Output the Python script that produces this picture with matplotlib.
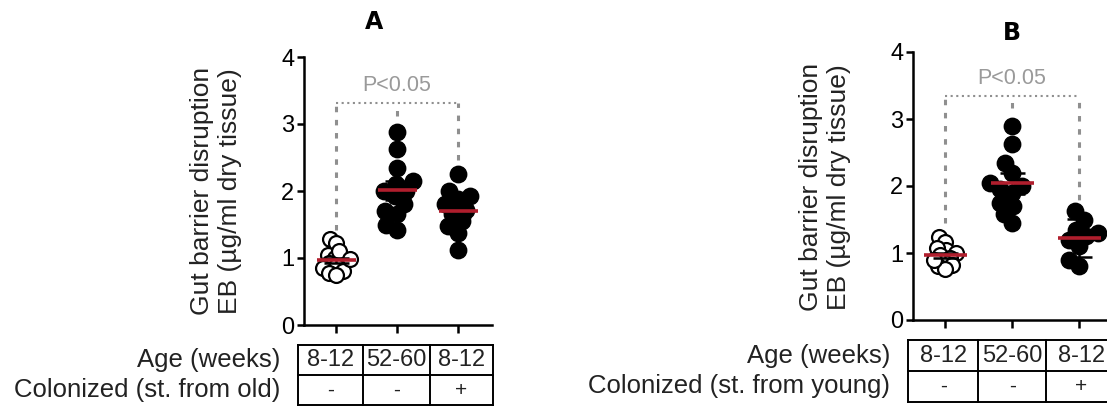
import numpy as np
import matplotlib
matplotlib.use("Agg")
import matplotlib.pyplot as plt

plt.rcParams['font.family'] = ['Liberation Sans', 'DejaVu Sans']

# EB gut barrier values, ug/ml dry tissue
groups = ["8-12", "52-60", "8-12"]
colonized = ["-", "-", "+"]

a_young = [1.28, 1.22, 1.05, 1.0, 0.95, 0.92, 0.88, 0.85, 0.80, 0.78, 0.75, 1.10, 0.98]
a_old = [2.88, 2.63, 2.35, 2.15, 2.10, 2.0, 1.92, 2.0, 1.80, 1.70, 1.65, 1.50, 1.42]
a_col = [2.25, 2.0, 1.92, 1.88, 1.80, 1.72, 1.65, 1.55, 1.48, 1.38, 1.12]
a_err = [0.04, 0.14, 0.10]

b_young = [1.24, 1.17, 1.05, 1.07, 1.0, 0.97, 0.93, 0.87, 0.82, 0.80, 0.76, 0.90]
b_old = [2.90, 2.63, 2.34, 2.20, 2.05, 2.0, 1.95, 1.90, 1.75, 1.70, 1.58, 1.45]
b_col = [1.62, 1.49, 1.35, 1.30, 1.25, 1.20, 1.10, 0.90, 0.80]
b_err = [0.04, 0.15, 0.28]

RED = '#b01e2d'
GREY = '#8f8f8f'
W, H = 1107, 407


def px_rect(x0, y0, x1, y1):
    # pixel box (top-left origin) -> figure fraction rect
    return [x0 / W, 1 - y1 / H, (x1 - x0) / W, (y1 - y0) / H]


def swarm(ax, xc, vals, min_px=11.0):
    vals = np.asarray(vals, float)
    pts = ax.transData.transform(np.column_stack([np.full(len(vals), xc), vals]))
    ys = pts[:, 1]
    x0 = pts[0, 0]
    cands = sorted(np.arange(-40, 40.5, 0.5), key=abs)
    placed = []
    offs = np.zeros(len(vals))
    for i in np.argsort(vals):
        for c in cands:
            if all((c - px) ** 2 + (ys[i] - py) ** 2 >= min_px ** 2 for px, py in placed):
                break
        placed.append((c, ys[i]))
        offs[i] = c
    back = ax.transData.inverted().transform(np.column_stack([x0 + offs, ys]))
    return back[:, 0]


def panel(fig, box, tbox, xlim, data, err, bracket, ptext_y, edges, col_label, title, title_xy, ylab_xy):
    ax = fig.add_axes(px_rect(*box))
    ax.set_xlim(*xlim)
    ax.set_ylim(0, 4)
    for s in ['top', 'right']:
        ax.spines[s].set_visible(False)
    for s in ['left', 'bottom']:
        ax.spines[s].set_linewidth(1.8)
    ax.set_yticks([0, 1, 2, 3, 4])
    ax.set_xticks([1, 2, 3])
    ax.set_xticklabels([])
    ax.tick_params(axis='y', length=5, width=1.8, pad=2, labelsize=17)
    ax.tick_params(axis='x', direction='out', length=6, width=1.8)

    for i, vals in enumerate(data):
        if i == 0:
            xs = swarm(ax, i + 1, vals, min_px=7.5)
            ax.scatter(xs, vals, s=115, facecolor='white', edgecolor='black',
                       linewidth=1.6, zorder=3, clip_on=False)
        else:
            xs = swarm(ax, i + 1, vals, min_px=12.0)
            ax.scatter(xs, vals, s=140, color='black', zorder=3, clip_on=False)
        m = np.mean(vals)
        ax.errorbar(i + 1, m, yerr=err[i], color='black', elinewidth=1.8,
                    capsize=9, capthick=1.8, zorder=4)
        ax.hlines(m, i + 1 - 0.32, i + 1 + 0.32, color=RED, lw=2.6, zorder=5)

    top, left_low, right_low, mid_low = bracket
    ax.plot([1, 1], [left_low, top], color=GREY, lw=2.2, dashes=(1.8, 2.5))
    ax.plot([3, 3], [right_low, top], color=GREY, lw=2.2, dashes=(1.8, 2.5))
    ax.plot([2, 2], [mid_low, top], color=GREY, lw=2.2, dashes=(1.8, 2.5))
    ax.plot([1, 3], [top, top], color=GREY, lw=1.5, dashes=(1, 1.7))
    ax.text(2, ptext_y, "P<0.05", color='#9a9a9a', fontsize=15.5,
            ha='center', va='center')

    fig.text(ylab_xy[0] / W, 1 - ylab_xy[1] / H,
             "Gut barrier disruption\nEB (\u00b5g/ml dry tissue)",
             rotation=90, ha='center', va='center', fontsize=19,
             multialignment='center', color='#222222')
    fig.text(title_xy[0] / W, 1 - title_xy[1] / H, title, fontsize=17,
             fontweight='bold', family='DejaVu Sans', ha='center', va='center')

    # group table under the axis
    tx = fig.add_axes(px_rect(*tbox))
    tx.set_xlim(*xlim)
    tx.set_ylim(0, 2)
    tx.axis('off')
    kw = dict(color='black', lw=1.4, clip_on=False)
    for yv in [0, 1, 2]:
        tx.plot([edges[0], edges[-1]], [yv, yv], **kw)
    for xv in edges:
        tx.plot([xv, xv], [0, 2], **kw)
    for i in range(3):
        xc = (edges[i] + edges[i + 1]) / 2
        tx.text(xc, 1.5, groups[i], ha='center', va='center', fontsize=17,
                color='#222222', clip_on=False)
        tx.text(xc, 0.5, colonized[i], ha='center', va='center', fontsize=15,
                color='#222222', clip_on=False)
    for yv, lab in [(1.5, "Age (weeks)"), (0.5, col_label)]:
        tx.annotate(lab, xy=(edges[0], yv), xytext=(-13, 0),
                    textcoords='offset points', ha='right', va='center',
                    fontsize=18.5, color='#222222', annotation_clip=False)
    return ax


fig = plt.figure(figsize=(W / 100, H / 100), dpi=100)

panel(fig, box=(304, 57, 492, 325), tbox=(304, 345, 492, 405),
      xlim=(0.475, 3.557), data=[a_young, a_old, a_col], err=a_err,
      bracket=(3.31, 1.42, 2.46, 3.12), ptext_y=3.57,
      edges=[0.38, 1.44, 2.54, 3.57], col_label="Colonized (st. from old)",
      title="A", title_xy=(374, 22), ylab_xy=(216, 191))

panel(fig, box=(913, 52, 1116, 320), tbox=(913, 340, 1116, 402),
      xlim=(0.52, 3.55), data=[b_young, b_old, b_col], err=b_err,
      bracket=(3.35, 1.45, 1.6, 3.16), ptext_y=3.61,
      edges=[0.45, 1.49, 2.51, 3.55], col_label="Colonized (st. from young)",
      title="B", title_xy=(1012, 33), ylab_xy=(825, 187))

fig.savefig("out.png", dpi=100)
